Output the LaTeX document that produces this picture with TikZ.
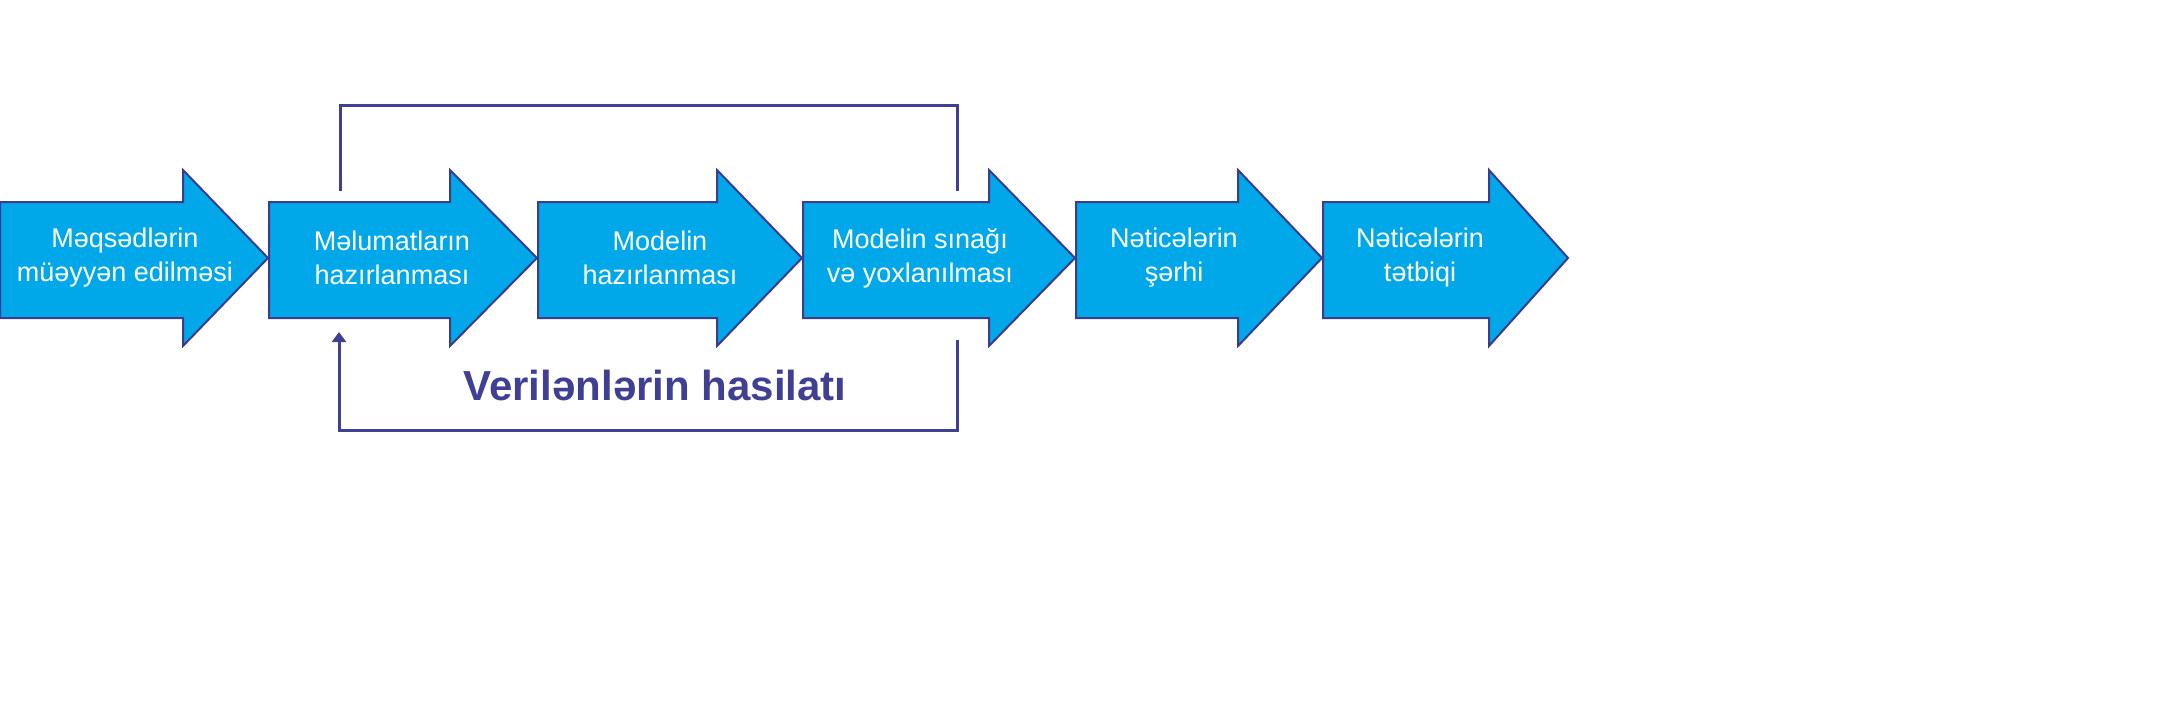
\documentclass[tikz,border=0pt]{standalone}
\usepackage{fontspec}
\setmainfont{Liberation Sans}
\usetikzlibrary{arrows.meta}
\definecolor{fillb}{HTML}{00A8EA}
\definecolor{edgeb}{HTML}{3C3C8E}
\definecolor{lineb}{HTML}{3F3F94}
\begin{document}
\begin{tikzpicture}[x=1pt,y=-1pt,
  arr/.style={fill=fillb,draw=edgeb,line width=2pt,line join=miter},
  lbl/.style={text=white,font=\fontsize{27}{34}\selectfont,align=center},
  fb/.style={draw=lineb,line width=3pt}]
\useasboundingbox (0,0) rectangle (2170,725);
\foreach \a/\h/\t/\n in {0/183/268/a1,269/450/537/a2,538/717/802/a3,803/989/1075/a4,1076/1238/1322/a5,1323/1489/1568/a6}{
  \draw[arr] (\a,202) -- (\h,202) -- (\h,170) -- (\t,258) -- (\h,346) -- (\h,318) -- (\a,318) -- cycle;
}
\node[lbl] (t1) at (125,258) {Məqsədlərin\\müəyyən edilməsi};
\node[lbl] (t2) at (392,258) {Məlumatların\\hazırlanması};
\node[lbl] (t3) at (660,258) {Modelin\\hazırlanması};
\node[lbl] (t4) at (920,258) {Modelin sınağı\\və yoxlanılması};
\node[lbl] (t5) at (1174,258) {Nəticələrin\\şərhi};
\node[lbl] (t6) at (1420,258) {Nəticələrin\\tətbiqi};
\coordinate (p1) at (340,191);
\coordinate (p2) at (957,191);
\coordinate (q1) at (957,340);
\coordinate (q2) at (339,332);
\draw[fb] (p1) -- (340,105) -- (957,105) -- (p2);
\draw[fb,-{Triangle[length=10pt,width=14pt]}] (q1) -- (957,430) -- (339,430) -- (q2);
\node[text=lineb,font=\bfseries\fontsize{42}{48}\selectfont] (lab) at (655,385) {Verilənlərin hasilatı};
\end{tikzpicture}
\end{document}
